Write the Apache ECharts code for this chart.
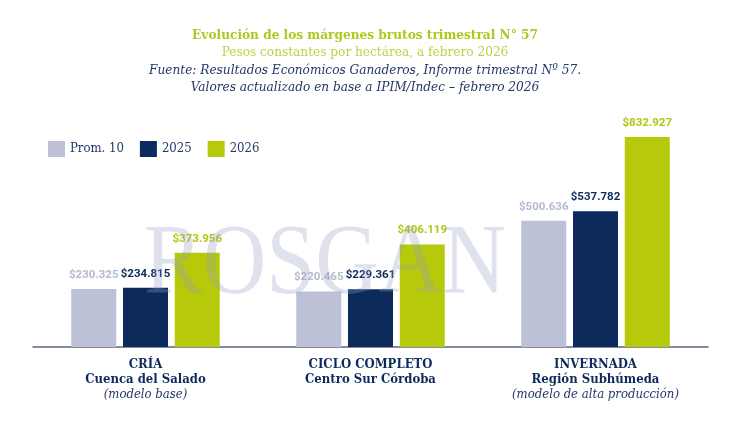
<!DOCTYPE html>
<html>
<head>
<meta charset="utf-8">
<script src="https://cdn.jsdelivr.net/npm/echarts@6/dist/echarts.min.js"></script>
<style>
	html, body { margin: 0; padding: 0; background: #fff; }
	#chart { width: 730px; height: 430px; }
</style>
</head>
<body>
<div id="chart"></div>
<script>
'use strict';

// categorias (3 lineas por grupo)
var categories = ['CRÍA', 'CICLO COMPLETO', 'INVERNADA'];
var subNames = ['Cuenca del Salado', 'Centro Sur Córdoba', 'Región Subhúmeda'];
var notes = ['(modelo base)', '', '(modelo de alta producción)'];

var seriesNames = ['Prom. 10', '2025', '2026'];
var prom10 = [230325, 220465, 500636];
var y2025 = [234815, 229361, 537782];
var y2026 = [373956, 406119, 832927];

var colorList = ['#bcc1d8', '#0c2b5c', '#b6c90b'];
var labelColors = ['#b4bad0', '#0c2b5c', '#b3c612'];

var titleLines = [
	'Evolución de los márgenes brutos trimestral N° 57',
	'Pesos constantes por hectárea, a febrero 2026',
	'Fuente: Resultados Económicos Ganaderos, Informe trimestral Nº 57.',
	'Valores actualizado en base a IPIM/Indec – febrero 2026'
];

var serifFont = '"DejaVu Serif Condensed", "DejaVu Serif", serif';

// formato $230.325
var fmtPeso = function (v) {
	return '$' + String(v).replace(/\B(?=(\d{3})+(?!\d))/g, '.');
};

var chart = echarts.init(document.getElementById('chart'));

var dataList = [prom10, y2025, y2026];
var series = [];
seriesNames.forEach(function (name, index) {
	series.push({
		name: name,
		type: 'bar',
		barWidth: 45,
		barGap: '15%',
		itemStyle: { color: colorList[index] },
		label: {
			show: true,
			position: 'top',
			distance: 8,
			color: labelColors[index],
			fontFamily: 'Roboto, sans-serif',
			fontWeight: 'bold',
			fontSize: 11.5,
			formatter: function (p) { return fmtPeso(p.value); }
		},
		data: dataList[index]
	});
});

chart.setOption({
	animation: false,
	color: colorList,
	graphic: [
		{ type: 'text', left: 'center', top: 28, style: { text: titleLines[0], fill: '#b3c61f', font: 'bold 13.5px ' + serifFont } },
		{ type: 'text', left: 'center', top: 45, style: { text: titleLines[1], fill: '#c0d04a', font: '13.5px ' + serifFont } },
		{ type: 'text', left: 'center', top: 63, style: { text: titleLines[2], fill: '#243766', font: 'italic 13.5px ' + serifFont } },
		{ type: 'text', left: 'center', top: 80, style: { text: titleLines[3], fill: '#243766', font: 'italic 13.5px ' + serifFont } },
		// marca de agua
		{
			type: 'text', x: 144, y: 216, z: 100, scaleX: 0.88,
			style: { text: 'ROSGAN', fill: 'rgba(150,160,195,0.3)', font: '100px "Liberation Serif", serif' }
		}
	],
	legend: {
		left: 43,
		top: 136,
		itemWidth: 17,
		itemHeight: 16,
		itemGap: 16,
		icon: 'rect',
		textStyle: { color: '#243766', fontSize: 13, fontFamily: serifFont },
		data: seriesNames
	},
	grid: {
		left: 33,
		right: 22,
		top: 120,
		bottom: 83
	},
	xAxis: {
		type: 'category',
		data: categories,
		axisTick: { show: false },
		axisLine: { lineStyle: { color: '#5d667c', width: 1.5 } },
		axisLabel: {
			margin: 10,
			interval: 0,
			formatter: function (value, idx) {
				var s = '{a|' + value + '}\n{b|' + subNames[idx] + '}';
				if (notes[idx]) s += '\n{c|' + notes[idx] + '}';
				return s;
			},
			rich: {
				a: { color: '#0c2b5c', fontWeight: 'bold', fontSize: 13, fontFamily: serifFont, lineHeight: 15 },
				b: { color: '#0c2b5c', fontWeight: 'bold', fontSize: 13, fontFamily: serifFont, lineHeight: 15 },
				c: { color: '#243766', fontStyle: 'italic', fontSize: 13, fontFamily: serifFont, lineHeight: 16 }
			}
		}
	},
	yAxis: {
		type: 'value',
		min: 0,
		max: 900000,
		show: false,
		splitLine: { show: false }
	},
	series: series
});
</script>
</body>
</html>
